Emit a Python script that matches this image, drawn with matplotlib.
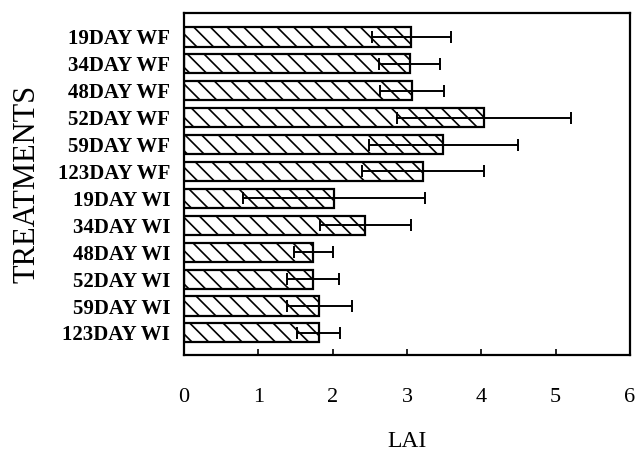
import numpy as np
import matplotlib.pyplot as plt

# LAI per treatment
treatments = ['19DAY WF', '34DAY WF', '48DAY WF', '52DAY WF', '59DAY WF', '123DAY WF',
              '19DAY WI', '34DAY WI', '48DAY WI', '52DAY WI', '59DAY WI', '123DAY WI']
lai = [3.06, 3.04, 3.07, 4.03, 3.49, 3.22, 2.02, 2.44, 1.74, 1.73, 1.82, 1.81]
lai_err = [0.53, 0.41, 0.43, 1.17, 1.00, 0.82, 1.22, 0.61, 0.26, 0.35, 0.44, 0.29]
x_ticks = [0, 1, 2, 3, 4, 5, 6]

plt.rcParams['font.family'] = 'Liberation Serif'
plt.rcParams['hatch.linewidth'] = 1.2


def main():
    fig = plt.figure(figsize=(6.42, 4.54), dpi=100)
    ax = fig.add_axes([184 / 642, 1 - 355 / 454, (630 - 184) / 642, (355 - 13) / 454])

    pos = np.arange(len(treatments))
    ax.barh(pos, lai, height=0.71, color='white', edgecolor='black',
            linewidth=1.6, hatch='\\\\')
    ax.errorbar(lai, pos, xerr=lai_err, fmt='none', ecolor='black',
                elinewidth=1.4, capsize=4, capthick=1.4)

    ax.set_xlim(0, 6)
    ax.set_ylim(11.82, -0.89)
    ax.set_xticks(x_ticks)
    ax.set_xticklabels([str(t) for t in x_ticks], fontsize=16)
    ax.set_yticks(pos)
    ax.set_yticklabels(treatments, fontsize=15, fontweight='bold')

    ax.tick_params(axis='x', direction='in', length=4, width=1.2, pad=24)
    ax.tick_params(axis='y', length=0, pad=10)
    for s in ax.spines.values():
        s.set_linewidth(1.6)

    ax.set_xlabel('LAI', fontsize=17, labelpad=17)
    ax.set_ylabel('TREATMENTS', fontsize=22, labelpad=12)

    fig.savefig('out.png', dpi=100)


if __name__ == '__main__':
    main()
